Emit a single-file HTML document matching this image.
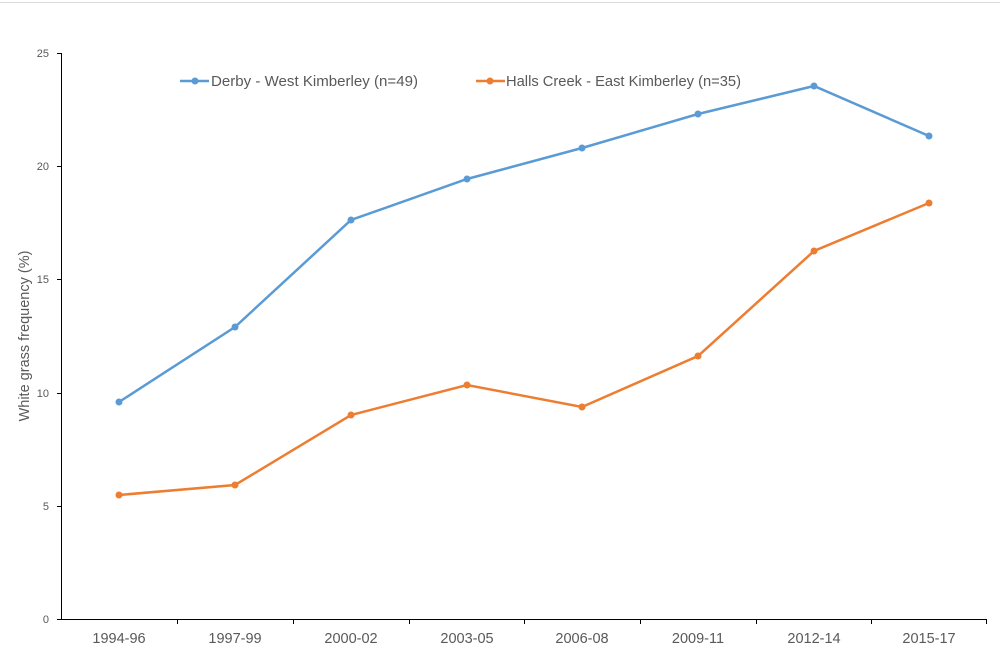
<!DOCTYPE html>
<html><head><style>body{margin:0;background:#fff}svg{display:block}</style></head><body>
<svg width="1000" height="657" xmlns="http://www.w3.org/2000/svg" font-family="Liberation Sans, sans-serif">
<line x1="0" y1="2.5" x2="1000" y2="2.5" stroke="#d9d9d9" stroke-width="1"/>
<g stroke="#000" stroke-width="1">
<line x1="61.5" y1="53" x2="61.5" y2="619"/>
<line x1="61" y1="619.5" x2="987" y2="619.5"/>
<line x1="57" y1="53.5" x2="61" y2="53.5"/>
<line x1="57" y1="166.5" x2="61" y2="166.5"/>
<line x1="57" y1="279.5" x2="61" y2="279.5"/>
<line x1="57" y1="393.5" x2="61" y2="393.5"/>
<line x1="57" y1="506.5" x2="61" y2="506.5"/>
<line x1="57" y1="619.5" x2="61" y2="619.5"/>
<line x1="177.5" y1="619" x2="177.5" y2="624"/>
<line x1="293.5" y1="619" x2="293.5" y2="624"/>
<line x1="409.5" y1="619" x2="409.5" y2="624"/>
<line x1="524.5" y1="619" x2="524.5" y2="624"/>
<line x1="640.5" y1="619" x2="640.5" y2="624"/>
<line x1="756.5" y1="619" x2="756.5" y2="624"/>
<line x1="871.5" y1="619" x2="871.5" y2="624"/>
<line x1="986.5" y1="619" x2="986.5" y2="624"/>
</g>
<g font-size="11" fill="#595959" text-anchor="end">
<text x="49" y="57">25</text><text x="49" y="170">20</text><text x="49" y="283">15</text>
<text x="49" y="397">10</text><text x="49" y="510">5</text><text x="49" y="623">0</text>
</g>
<g font-size="14.5" fill="#595959" text-anchor="middle">
<text x="119" y="643">1994-96</text><text x="235" y="643">1997-99</text><text x="351" y="643">2000-02</text>
<text x="467" y="643">2003-05</text><text x="582" y="643">2006-08</text><text x="698" y="643">2009-11</text>
<text x="814" y="643">2012-14</text><text x="929" y="643">2015-17</text>
</g>
<text transform="translate(29,336) rotate(-90)" font-size="14.5" fill="#595959" text-anchor="middle">White grass frequency (%)</text>
<polyline fill="none" stroke="#5b9bd5" stroke-width="2.5" points="119,402 235,327 351,220 467,179 582,148 698,114 814,86 929,136"/>
<polyline fill="none" stroke="#ed7d31" stroke-width="2.5" points="119,495 235,485 351,415 467,385 582,407 698,356 814,251 929,203"/>
<g fill="#5b9bd5"><circle cx="119" cy="402" r="3.5"/><circle cx="235" cy="327" r="3.5"/><circle cx="351" cy="220" r="3.5"/><circle cx="467" cy="179" r="3.5"/><circle cx="582" cy="148" r="3.5"/><circle cx="698" cy="114" r="3.5"/><circle cx="814" cy="86" r="3.5"/><circle cx="929" cy="136" r="3.5"/></g>
<g fill="#ed7d31"><circle cx="119" cy="495" r="3.5"/><circle cx="235" cy="485" r="3.5"/><circle cx="351" cy="415" r="3.5"/><circle cx="467" cy="385" r="3.5"/><circle cx="582" cy="407" r="3.5"/><circle cx="698" cy="356" r="3.5"/><circle cx="814" cy="251" r="3.5"/><circle cx="929" cy="203" r="3.5"/></g>
<line x1="180" y1="81" x2="209" y2="81" stroke="#5b9bd5" stroke-width="2.5"/><circle cx="195" cy="81" r="3.5" fill="#5b9bd5"/>
<text x="211" y="86" font-size="15" fill="#595959" textLength="207" lengthAdjust="spacingAndGlyphs">Derby - West Kimberley (n=49)</text>
<line x1="476" y1="81" x2="505" y2="81" stroke="#ed7d31" stroke-width="2.5"/><circle cx="490" cy="81" r="3.5" fill="#ed7d31"/>
<text x="506" y="86" font-size="15" fill="#595959" textLength="235" lengthAdjust="spacingAndGlyphs">Halls Creek - East Kimberley (n=35)</text>
</svg>
</body></html>
